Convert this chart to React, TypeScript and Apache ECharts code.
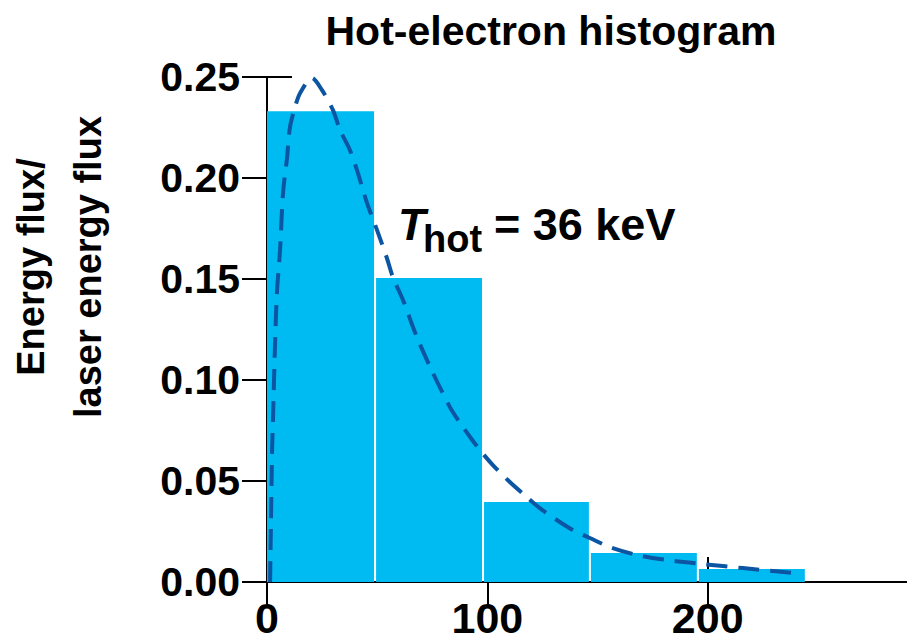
import React, { useEffect, useRef } from "react";
import * as echarts from "echarts";

// Histogram bins: [start keV, end keV, energy-flux fraction]
const binStarts = [0, 49.5, 98.5, 147, 196];
const binEnds = [49.5, 98.5, 147, 196, 245];
const binValues = [0.233, 0.1505, 0.0396, 0.0144, 0.0064];

// Maxwellian fit curve (T_hot = 36 keV)
const curveX = [1.4, 2.3, 2.7, 3.6, 4.5, 5.9, 7.3, 9.1, 10.4, 12.7, 15.0, 20.4, 24.9, 29.9, 33.1, 37.6, 40.8, 45.4, 49.9, 54.4, 57.1, 61.7, 68.0, 75.3, 83.0, 86.6, 93.4, 98.0, 102.5, 110.2, 117.9, 123.8, 131.5, 138.8, 146.5, 155.6, 167.8, 181.4, 197.7, 215.9, 238.5];
const curveY = [0.0, 0.065, 0.08, 0.116, 0.143, 0.164, 0.193, 0.21, 0.225, 0.235, 0.242, 0.2495, 0.2436, 0.2337, 0.2238, 0.2139, 0.204, 0.1876, 0.1743, 0.1604, 0.151, 0.1396, 0.1213, 0.1035, 0.0866, 0.0804, 0.0699, 0.0635, 0.0579, 0.0495, 0.0421, 0.0366, 0.0307, 0.0257, 0.0218, 0.0173, 0.0134, 0.0109, 0.0089, 0.0069, 0.0045];

const xTicks = [0, 100, 200];
const yTicks = [0, 0.05, 0.1, 0.15, 0.2, 0.25];

const FONT = "'Liberation Sans', Arial, Helvetica, sans-serif";

export default function App() {
  const ref = useRef<HTMLDivElement>(null);

  useEffect(() => {
    if (!ref.current) return;
    const chart = echarts.init(ref.current, null, { renderer: "svg" });

    const barData = binValues.map((v, i) => [binStarts[i], binEnds[i], v]);
    const lineData = curveX.map((x, i) => [x, curveY[i]]);

    const tickStyle = { show: true, inside: true, length: 25, lineStyle: { color: "#000", width: 2 } };
    const lineStyle = { show: true, lineStyle: { color: "#000", width: 2 } };

    chart.setOption({
      animation: false,
      backgroundColor: "#fff",
      grid: { left: 267, top: 77, width: 650, height: 505, containLabel: false },
      xAxis: [
        {
          type: "value",
          position: "bottom",
          min: 0,
          max: 295,
          interval: 100,
          axisLine: lineStyle,
          axisTick: tickStyle,
          splitLine: { show: false },
          axisLabel: {
            margin: 14,
            color: "#000",
            fontFamily: FONT,
            fontWeight: "bold",
            fontSize: 43,
            formatter: (v: number) => (xTicks.includes(v) ? String(v) : ""),
          },
        },
        {
          type: "value",
          position: "top",
          min: 0,
          max: 295,
          interval: 100,
          axisLine: lineStyle,
          axisTick: tickStyle,
          splitLine: { show: false },
          axisLabel: { show: false },
        },
      ],
      yAxis: [
        {
          type: "value",
          position: "left",
          min: 0,
          max: 0.25,
          interval: 0.05,
          axisLine: lineStyle,
          axisTick: tickStyle,
          splitLine: { show: false },
          axisLabel: {
            margin: 27,
            color: "#000",
            fontFamily: FONT,
            fontWeight: "bold",
            fontSize: 41,
            formatter: (v: number) => {
              const t = yTicks.find((y) => Math.abs(y - v) < 1e-9);
              return t === undefined ? "" : t.toFixed(2);
            },
          },
        },
        {
          type: "value",
          position: "right",
          min: 0,
          max: 0.25,
          interval: 0.05,
          axisLine: lineStyle,
          axisTick: tickStyle,
          splitLine: { show: false },
          axisLabel: { show: false },
        },
      ],
      series: [
        {
          type: "custom",
          xAxisIndex: 0,
          yAxisIndex: 0,
          data: barData,
          z: 1,
          renderItem: (params: any, api: any) => {
            const x0 = api.value(0);
            const x1 = api.value(1);
            const y = api.value(2);
            const p0 = api.coord([x0, y]);
            const p1 = api.coord([x1, 0]);
            return {
              type: "rect",
              shape: { x: p0[0], y: p0[1], width: p1[0] - p0[0] - 2, height: p1[1] - p0[1] },
              style: { fill: "#00BBF1" },
            };
          },
        },
        {
          type: "line",
          xAxisIndex: 0,
          yAxisIndex: 0,
          data: lineData,
          symbol: "none",
          smooth: 0.3,
          z: 5,
          clip: false,
          lineStyle: { color: "#0B55A3", width: 4, type: [21, 11] },
        },
      ],
      graphic: [
        {
          type: "text",
          x: 551,
          y: 31,
          style: {
            text: "Hot-electron histogram",
            font: `bold 41px ${FONT}`,
            fill: "#000",
            align: "center",
            verticalAlign: "middle",
          },
        },
        {
          type: "text",
          x: 31,
          y: 267,
          rotation: Math.PI / 2,
          style: {
            text: "Energy flux/",
            font: `bold 38px ${FONT}`,
            fill: "#000",
            align: "center",
            verticalAlign: "middle",
          },
        },
        {
          type: "text",
          x: 88,
          y: 267,
          rotation: Math.PI / 2,
          style: {
            text: "laser energy flux",
            font: `bold 38px ${FONT}`,
            fill: "#000",
            align: "center",
            verticalAlign: "middle",
          },
        },
        {
          type: "text",
          x: 398,
          y: 224,
          z: 10,
          style: {
            text: "T",
            font: `italic bold 45px ${FONT}`,
            fill: "#000",
            align: "left",
            verticalAlign: "middle",
          },
        },
        {
          type: "text",
          x: 423,
          y: 239,
          z: 10,
          style: {
            text: "hot",
            font: `bold 38px ${FONT}`,
            fill: "#000",
            align: "left",
            verticalAlign: "middle",
          },
        },
        {
          type: "text",
          x: 494,
          y: 224,
          z: 10,
          style: {
            text: "= 36 keV",
            font: `bold 45px ${FONT}`,
            fill: "#000",
            align: "left",
            verticalAlign: "middle",
          },
        },
      ],
    });

    return () => chart.dispose();
  }, []);

  return (
    <div style={{ position: "absolute", left: 0, top: 0, width: 907, height: 644, overflow: "hidden" }}>
      <div ref={ref} style={{ width: 940, height: 644 }} />
    </div>
  );
}
